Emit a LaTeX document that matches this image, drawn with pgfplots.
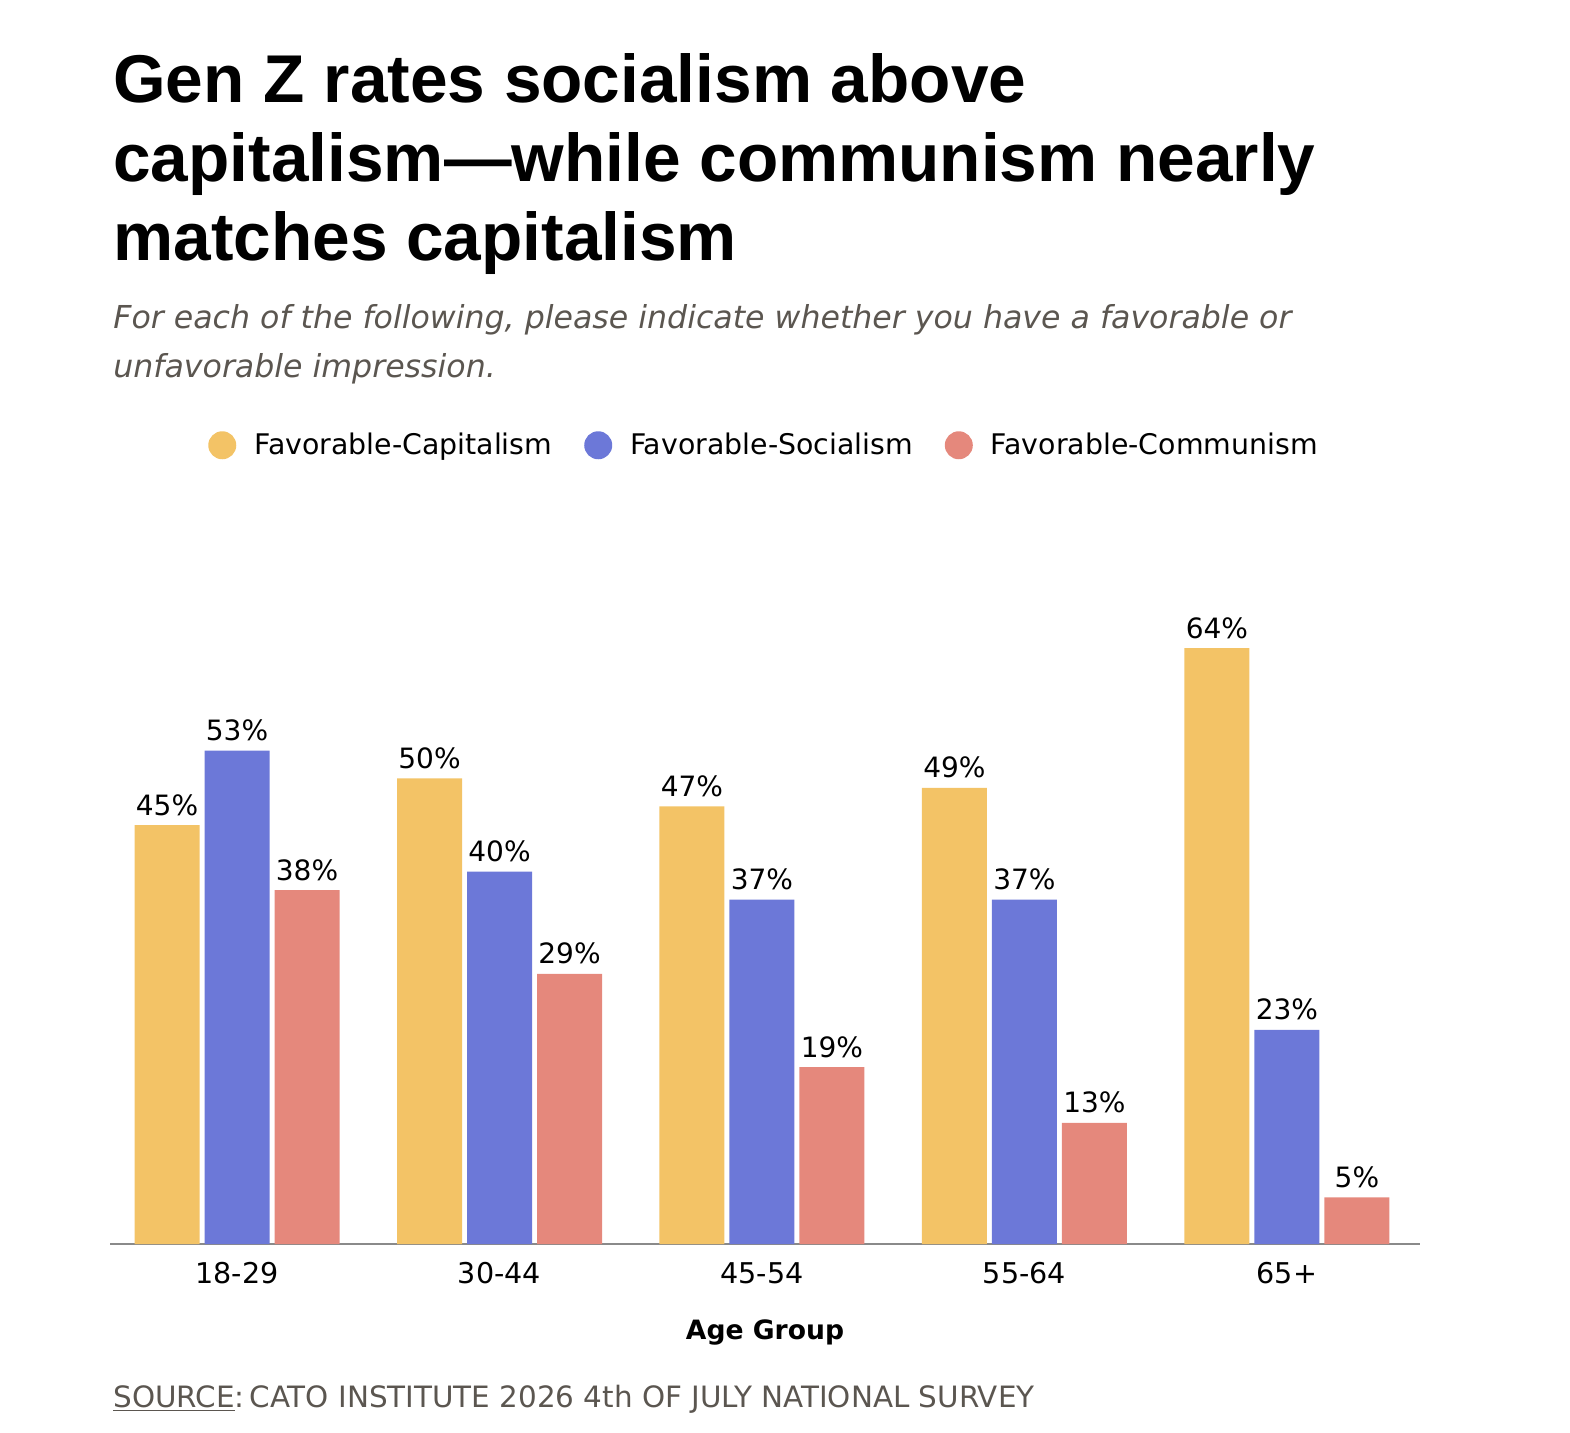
\documentclass[border=0pt]{standalone}
\usepackage{pgfplots}
\pgfplotsset{compat=1.18}
\usepackage{fontspec}
\setmainfont{DejaVu Sans}
\newfontfamily\titlefont{Liberation Sans}
\definecolor{capc}{HTML}{F3C366}
\definecolor{socc}{HTML}{6C78D8}
\definecolor{comc}{HTML}{E5887C}
\definecolor{subc}{HTML}{5B5650}
\definecolor{axc}{HTML}{8A8A8A}
\begin{document}
\begin{tikzpicture}
\useasboundingbox (0,0) rectangle (785pt,-716pt);
\begin{scope}[every node/.style={anchor=base west, inner sep=0pt}]
\node[font=\titlefont\fontsize{33.8}{40}\bfseries\selectfont] at (56.5pt,-51pt) {Gen Z rates socialism above};
\node[font=\titlefont\fontsize{33.8}{40}\bfseries\selectfont] at (56.5pt,-90.5pt) {capitalism—while communism nearly};
\node[font=\titlefont\fontsize{33.8}{40}\bfseries\selectfont] at (56.5pt,-130pt) {matches capitalism};
\node[font=\fontsize{15.8}{19}\itshape\selectfont, text=subc] at (56.5pt,-164pt) {For each of the following, please indicate whether you have a favorable or};
\node[font=\fontsize{15.8}{19}\itshape\selectfont, text=subc] at (56.5pt,-188.5pt) {unfavorable impression.};
\node[font=\fontsize{14.7}{17}\selectfont, text=subc] at (56.5pt,-703.5pt) {\underline{SOURCE}:\,CATO INSTITUTE 2026 4th OF JULY NATIONAL SURVEY};
\end{scope}
\begin{axis}[
  at={(55pt,-622pt)}, anchor=south west,
  scale only axis, width=655pt, height=325.9pt,
  xmin=-0.484, xmax=4.507, ymin=0, ymax=70,
  axis y line=none, axis x line*=bottom,
  x axis line style={axc, line width=1pt, -},
  major tick length=0pt,
  /pgf/number format/assume math mode=true,
  xtick=data, xticklabels={18-29,30-44,45-54,55-64,65+},
  xticklabel style={anchor=base, yshift=-19.5pt, font=\fontsize{14.3}{17}\selectfont},
  xlabel={Age Group},
  xlabel style={at={(axis description cs:0.5,-0.1472)}, anchor=base, font=\fontsize{13.3}{16}\bfseries\selectfont},
  ybar, bar width=32.5pt,
  nodes near coords={\pgfmathprintnumber{\pgfplotspointmeta}\%},
  nodes near coords style={anchor=base, yshift=5pt, inner sep=0pt, font=\fontsize{14}{16}\selectfont, text=black},
  legend style={at={(0.5,1.2255)}, anchor=center, draw=none, fill=none, font=\fontsize{14.2}{17}\selectfont,
    /tikz/every odd column/.append style={column sep=7pt},
    /tikz/every even column/.append style={column sep=14pt}},
  legend columns=3,
  legend image code/.code={\fill[#1] (7pt,0pt) circle (7pt);},
  clip=false,
]
\addplot[fill=capc, draw=none, bar shift=-35pt] coordinates {(0,45) (1,50) (2,47) (3,49) (4,64)};
\addplot[fill=socc, draw=none, bar shift=0pt] coordinates {(0,53) (1,40) (2,37) (3,37) (4,23)};
\addplot[fill=comc, draw=none, bar shift=35pt] coordinates {(0,38) (1,29) (2,19) (3,13) (4,5)};
\legend{Favorable-Capitalism, Favorable-Socialism, Favorable-Communism}
\end{axis}
\end{tikzpicture}
\end{document}
